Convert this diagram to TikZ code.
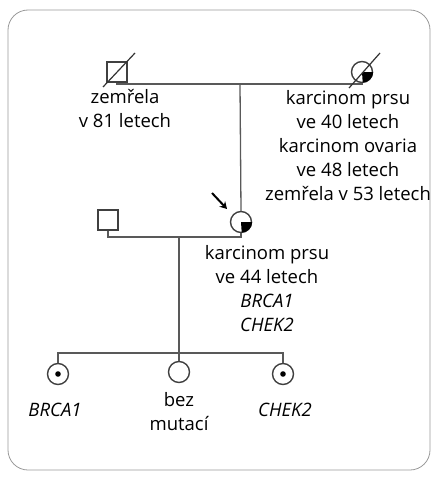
\documentclass[tikz,border=0pt]{standalone}
\usepackage{fontspec}
\setmainfont{Open Sans}
\usetikzlibrary{arrows.meta}
\begin{document}
\begin{tikzpicture}[x=1pt,y=-1pt,
  male/.style={draw=black!75,line width=1.4pt,rectangle,minimum size=20pt,inner sep=0pt},
  female/.style={draw=black!75,line width=1.4pt,circle,minimum size=21pt,inner sep=0pt},
  rel/.style={draw=black!65,line width=1.3pt},
  lbl/.style={align=center,font=\fontsize{18.5}{24}\selectfont,inner sep=0pt,anchor=north},
  gene/.style={font=\fontsize{18.5}{24}\selectfont\itshape,inner sep=0pt}
]
\useasboundingbox (0,0) rectangle (435,479);
\draw[black!40,line width=0.8pt,rounded corners=20pt] (8,10) rectangle (430,470);
% generation I
\node[male] (f) at (117,72) {};
\node[female] (m) at (362,72) {};
\fill[black] (m.center) -- (m.east) arc[start angle=0,end angle=-90,radius=10.5pt] -- cycle;
\draw[rel] (f.south) -- (117,84) -- (362,84) -- (m.south);
\draw[black!80,line width=1.2pt] (103,87) -- (135,53);
\draw[black!80,line width=1.2pt] (349,88) -- (380,53);
% generation II
\node[male] (h) at (108,220) {};
\node[female] (p) at (241,222) {};
\fill[black] (p.center) -- (p.east) arc[start angle=0,end angle=-90,radius=10.5pt] -- cycle;
\draw[rel] (240,84) -- (p.north);
\draw[rel] (h.south) -- (108,237) -- (241,237) -- (p.south);
\coordinate (atail) at (212,193);
\coordinate (ahead) at (227,209);
\draw[black,line width=2pt,-{Stealth[length=7pt,width=8pt]}] (atail) -- (ahead);
% generation III
\node[female] (c1) at (58,374) {};
\node[female] (c2) at (179,372) {};
\node[female] (c3) at (283,374) {};
\fill (c1.center) circle (2.8pt);
\fill (c3.center) circle (2.8pt);
\draw[rel] (179,237) -- (179,353);
\draw[rel] (c1.north) -- (58,353) -- (283,353) -- (c3.north);
\draw[rel] (179,353) -- (c2.north);
% labels
\node[lbl] (tf) at (125,89) {zemřela\\v 81 letech};
\node[lbl] (tm) at (348,90) {karcinom prsu\\ve 40 letech\\karcinom ovaria\\ve 48 letech\\zemřela v 53 letech};
\node[lbl] (tp) at (267,245) {karcinom prsu\\ve 44 letech\\\textit{BRCA1}\\\textit{CHEK2}};
\node[gene] (t1) at (55,410) {BRCA1};
\node[lbl] (t2) at (179,392) {bez\\mutací};
\node[gene] (t3) at (285,410) {CHEK2};
\end{tikzpicture}
\end{document}
